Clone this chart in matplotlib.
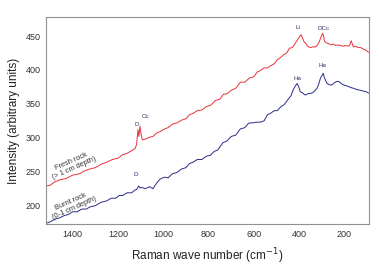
import matplotlib
matplotlib.use("Agg")
import matplotlib.pyplot as plt

plt.rcParams['font.family'] = ['Liberation Sans', 'DejaVu Sans']

# fresh rock (> 1 cm depth)
fresh_wn = [1520, 1500, 1480, 1458, 1430, 1400, 1370, 1350, 1325, 1300, 1275, 1250,
            1225, 1200, 1180, 1161, 1140, 1125, 1118, 1112, 1108, 1103, 1098, 1093,
            1080, 1060, 1046, 1030, 1015, 995, 979, 960, 940, 920, 900, 885, 869,
            850, 830, 810, 790, 770, 750, 735, 718, 700, 680, 660, 640, 620, 600,
            585, 572, 555, 540, 527, 510, 497, 483, 470, 455, 443, 430, 420, 408,
            400, 392, 385, 378, 373, 365, 359, 350, 340, 328, 318, 311, 304, 297,
            292, 289, 282, 271, 260, 250, 240, 229, 218, 205, 195, 182, 176, 170,
            165, 161, 150, 140, 129, 118, 105, 94]
fresh_int = [229, 230, 235, 238, 240, 245, 247, 251, 254, 256, 261, 264,
             268, 270, 275, 277, 281, 284, 290, 312, 302, 317, 305, 297,
             298, 301, 302, 307, 309, 313, 315, 320, 322, 326, 328, 334, 336,
             340, 341, 346, 348, 355, 357, 364, 365, 370, 373, 382, 382, 388, 390,
             397, 399, 403, 403, 406, 409, 415, 418, 422, 425, 432, 433, 438, 444,
             448, 452, 447, 441, 440, 436, 434, 433, 434, 434, 437, 442, 448, 454,
             450, 443, 440, 439, 437, 438, 436, 437, 436, 435, 436, 435, 437, 443,
             438, 434, 435, 433, 433, 431, 429, 426]

# burnt rock (0-1 cm depth)
burnt_wn = [1518, 1500, 1480, 1458, 1440, 1420, 1400, 1380, 1360, 1340, 1325, 1300,
            1275, 1250, 1230, 1210, 1195, 1179, 1160, 1140, 1125, 1117, 1109, 1102,
            1096, 1080, 1060, 1046, 1030, 1015, 995, 979, 960, 939, 920, 900, 885,
            869, 850, 830, 810, 793, 775, 760, 736, 720, 700, 680, 660, 640, 625,
            616, 605, 590, 572, 555, 540, 527, 510, 497, 480, 466, 448, 436, 426,
            416, 409, 402, 395, 385, 373, 360, 343, 332, 321, 313, 306, 300, 294,
            288, 277, 265, 255, 245, 235, 225, 215, 204, 195, 185, 172, 160, 145,
            130, 118, 105, 94]
burnt_int = [174, 176, 180, 182, 185, 187, 191, 191, 195, 195, 198, 200,
             205, 207, 211, 211, 215, 215, 219, 219, 223, 224, 229, 226,
             227, 225, 228, 225, 233, 239, 242, 241, 247, 249, 254, 256, 262,
             264, 268, 268, 273, 274, 280, 282, 293, 295, 302, 304, 313, 315, 321,
             322, 322, 323, 323, 325, 334, 336, 340, 340, 346, 349, 357, 362, 371,
             377, 380, 375, 368, 366, 363, 365, 366, 369, 373, 380, 388, 391, 395,
             388, 380, 378, 378, 381, 383, 383, 380, 378, 377, 376, 374, 373, 371,
             370, 369, 368, 366]

red = '#e8323a'
blue = '#2b2b8c'

fig = plt.figure(figsize=(3.79, 2.70), dpi=100)
ax = fig.add_axes([0.1214, 0.1704, 0.852, 0.7666])

ax.plot(fresh_wn, fresh_int, color=red, lw=0.7)
ax.plot(burnt_wn, burnt_int, color=blue, lw=0.7)

ax.set_xlim(1518, 92)
ax.set_ylim(173, 478)
ax.set_xticks([1400, 1200, 1000, 800, 600, 400, 200])
ax.set_yticks([200, 250, 300, 350, 400, 450])
ax.tick_params(length=0, labelsize=6.5, colors='#333333', pad=4)
for s in ax.spines.values():
    s.set_color('#909090')
    s.set_linewidth(0.8)

ax.set_xlabel('Raman wave number (cm$^{-1}$)', fontsize=8.5, color='#222222', labelpad=6)
ax.set_ylabel('Intensity (arbitrary units)', fontsize=8.5, color='#222222', labelpad=4)

lab = dict(fontsize=4.5, color='#333366', ha='center', va='center')
ax.text(1118, 320, 'D', **lab)
ax.text(1081, 332, 'Cc', **lab)
ax.text(1122, 246, 'D', **lab)
ax.text(405, 462, 'Li', **lab)
ax.text(291, 461, 'DCc', **lab)
ax.text(406, 388, 'Ha', **lab)
ax.text(296, 406, 'Ha', **lab)

ax.text(1400, 260, 'Fresh rock\n(> 1 cm depth)', fontsize=5.3, color='#333333',
        rotation=24, ha='center', va='center', linespacing=1.1)
ax.text(1400, 201, 'Burnt rock\n(0-1 cm depth)', fontsize=5.3, color='#333333',
        rotation=24, ha='center', va='center', linespacing=1.1)

fig.savefig('out.png', dpi=100)
